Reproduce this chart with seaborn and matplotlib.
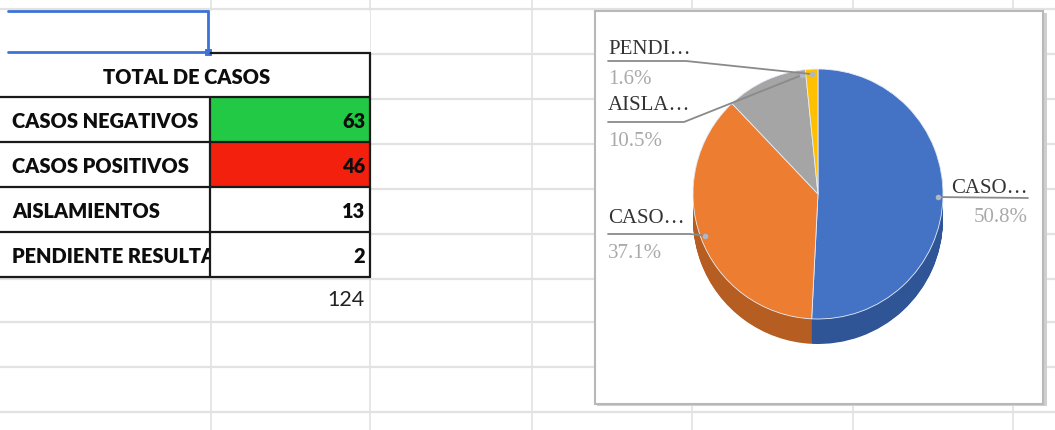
import numpy as np
import pandas as pd
import matplotlib
matplotlib.use("Agg")
import matplotlib.pyplot as plt
from matplotlib.colors import ListedColormap
from matplotlib.patches import Rectangle
import seaborn as sns

# ---------------- data ----------------
categories = ["CASOS NEGATIVOS", "CASOS POSITIVOS", "AISLAMIENTOS", "PENDIENTE RESULTADOS"]
values = [63, 46, 13, 2]
total_label = "124"
table_title = "TOTAL DE CASOS"
cell_colors = ["#22c944", "#f3200e", "#ffffff", "#ffffff"]
pie_labels = ["CASO…", "CASO…", "AISLA…", "PENDI…"]
pie_colors = ["#4472c4", "#ed7d31", "#a5a5a5", "#ffc000"]
pie_side_colors = ["#2f5597", "#b65e22", "#7f7f7f", "#bf9000"]

sns.set_theme(style="white")
TFAM = ["Lato", "DejaVu Sans"]
plt.rcParams["font.family"] = TFAM

W, H = 1055, 431
fig = plt.figure(figsize=(W / 100, H / 100), dpi=100)
fig.patch.set_facecolor("white")
renderer = fig.canvas.get_renderer()

TWEIGHT = "heavy"

def fit_size(s, target_px, **kw):
    t = fig.text(0, 0, s, fontsize=10, **kw)
    wpx = t.get_window_extent(renderer).width
    t.remove()
    return 10 * target_px / wpx

tsize = fit_size(categories[0], 186, family=TFAM, fontweight=TWEIGHT)

def fax(x0, y0, x1, y1, **kw):
    return fig.add_axes([x0 / W, 1 - y1 / H, (x1 - x0) / W, (y1 - y0) / H], **kw)

# ---------------- spreadsheet background ----------------
bg = fax(0, 0, W, H)
bg.set_xlim(0, W)
bg.set_ylim(H, 0)
bg.axis("off")
grid_c = "#e2e2e2"
for y in [10, 55, 100, 145, 190, 235, 280, 323, 368, 413]:
    bg.plot([0, W], [y, y], color=grid_c, lw=1.6, zorder=0)
for x in [211, 370, 532, 692, 853, 1013]:
    bg.plot([x, x], [0, H], color=grid_c, lw=1.2, zorder=0)
bg.add_patch(Rectangle((0, 12), 370, 266, facecolor="white", edgecolor="none", zorder=1))

tfont = dict(family=TFAM, fontweight=TWEIGHT, fontsize=tsize, color="#0d0d0d")
row_h = 45
row_top = 98
bg.text(187, 78, table_title, ha="center", va="center", zorder=3, **tfont)
for i, cat in enumerate(categories):
    bg.text(12, row_top + row_h * i + row_h / 2 + 1, cat, ha="left", va="center",
            zorder=3, **tfont)
bg.text(364, 300, total_label, ha="right", va="center", zorder=3,
        family=TFAM, fontsize=tsize + 1, color="#222222")

# chart shadow
bg.add_patch(Rectangle((597, 14), 450, 393, facecolor="#cfcfcf", edgecolor="none", zorder=2))

# ---------------- value cells (seaborn heatmap) ----------------
hm = fax(210, row_top, 370, row_top + row_h * len(values))
idx = pd.DataFrame({"v": np.arange(len(values))}, index=categories)
sns.heatmap(idx, ax=hm, cmap=ListedColormap(cell_colors), vmin=-0.5, vmax=len(values) - 0.5,
            cbar=False, xticklabels=False, yticklabels=False, linewidths=0)
hm.set_ylabel("")
for i, v in enumerate(values):
    hm.text(0.97, i + 0.53, str(v), ha="right", va="center", **tfont)

# ---------------- overlay: borders & selection ----------------
ov = fax(0, 0, W, H, zorder=5)
ov.set_xlim(0, W)
ov.set_ylim(H, 0)
ov.axis("off")
ov.patch.set_alpha(0)
bc = "#1a1a1a"
ov.plot([210, 370], [54, 54], color=bc, lw=1.6)
for k in range(len(values) + 1):
    y = row_top + row_h * k
    ov.plot([0, 370], [y, y], color=bc, lw=1.6)
ov.plot([370, 370], [54, 278], color=bc, lw=1.6)
ov.plot([210, 210], [98, 278], color=bc, lw=1.6)
sel = "#3d72d6"
ov.plot([8, 208], [12, 12], color=sel, lw=2)
ov.plot([8, 208], [53, 53], color=sel, lw=2)
ov.plot([208, 208], [12, 53], color=sel, lw=2)
ov.add_patch(Rectangle((204, 49), 8, 8, facecolor=sel, edgecolor="white", lw=0.8))

# ---------------- 3D-looking pie chart ----------------
pax = fax(595, 12, 1043, 405)
R = 125.0
cx, cy = 818, 195
def P(x, y):
    return ((x - cx) / R, (cy - y) / R)

depth = 25 / R
n_layers = 40
for k in range(n_layers, 0, -1):
    pax.pie(values, colors=pie_side_colors, startangle=90, counterclock=False,
            center=(0, -depth * k / n_layers), radius=1,
            wedgeprops=dict(linewidth=0, antialiased=True))
wedges, _ = pax.pie(values, colors=pie_colors, startangle=90, counterclock=False,
                    center=(0, 0), radius=1,
                    wedgeprops=dict(linewidth=0.6, edgecolor="#e8eef8"))
pax.set_aspect("auto")
pax.set_xlim(-(cx - 595) / R, (1043 - cx) / R)
pax.set_ylim(-(405 - cy) / R, (cy - 12) / R)
pax.set_frame_on(True)
pax.set_facecolor("white")
pax.set_xticks([])
pax.set_yticks([])
for s in pax.spines.values():
    s.set_visible(True)
    s.set_color("#b8b8b8")
    s.set_linewidth(1.5)

total = sum(values)
pcts = [f"{100 * v / total:.1f}%" for v in values]
lab_c = "#333333"
pct_c = "#a9a9a9"
lead_c = "#8a8a8a"
sfont = dict(family=["Liberation Serif", "DejaVu Serif"], fontsize=15)

# label layout (pixel positions): (text x, text y, underline y, underline end x, side, anchor frac)
layout = [
    (1028, 189, 199, 940, "right", 0.5),
    (608, 219, 235, 690, "left", 0.5),
    (608, 106, 123, 684, "left", 0.05),
    (608, 50, 62, 686, "left", 0.5),
]
for w, lab, pct, (tx, ty, uy, ux, side, fr) in zip(wedges, pie_labels, pcts, layout):
    ang = np.deg2rad(w.theta1 + fr * (w.theta2 - w.theta1))
    ax_, ay_ = 0.96 * np.cos(ang), 0.96 * np.sin(ang)
    if side == "right":
        pax.text(*P(tx, ty), lab, ha="right", va="center", color=lab_c, **sfont)
        pax.text(*P(tx, uy + 19), pct, ha="right", va="center", color=pct_c, **sfont)
        x1, yline = P(tx, uy)
        pax.plot([ax_, x1], [ay_, yline], color=lead_c, lw=1.3)
    else:
        pax.text(*P(tx, ty), lab, ha="left", va="center", color=lab_c, **sfont)
        pax.text(*P(tx, uy + 18), pct, ha="left", va="center", color=pct_c, **sfont)
        x0, yline = P(tx, uy)
        x1, _ = P(ux, uy)
        pax.plot([x0, x1, ax_], [yline, yline, ay_], color=lead_c, lw=1.3)
    pax.plot([ax_], [ay_], "o", ms=4, color="#b0b8c8", mec="none")

fig.savefig("out.png", dpi=100, facecolor="white")
